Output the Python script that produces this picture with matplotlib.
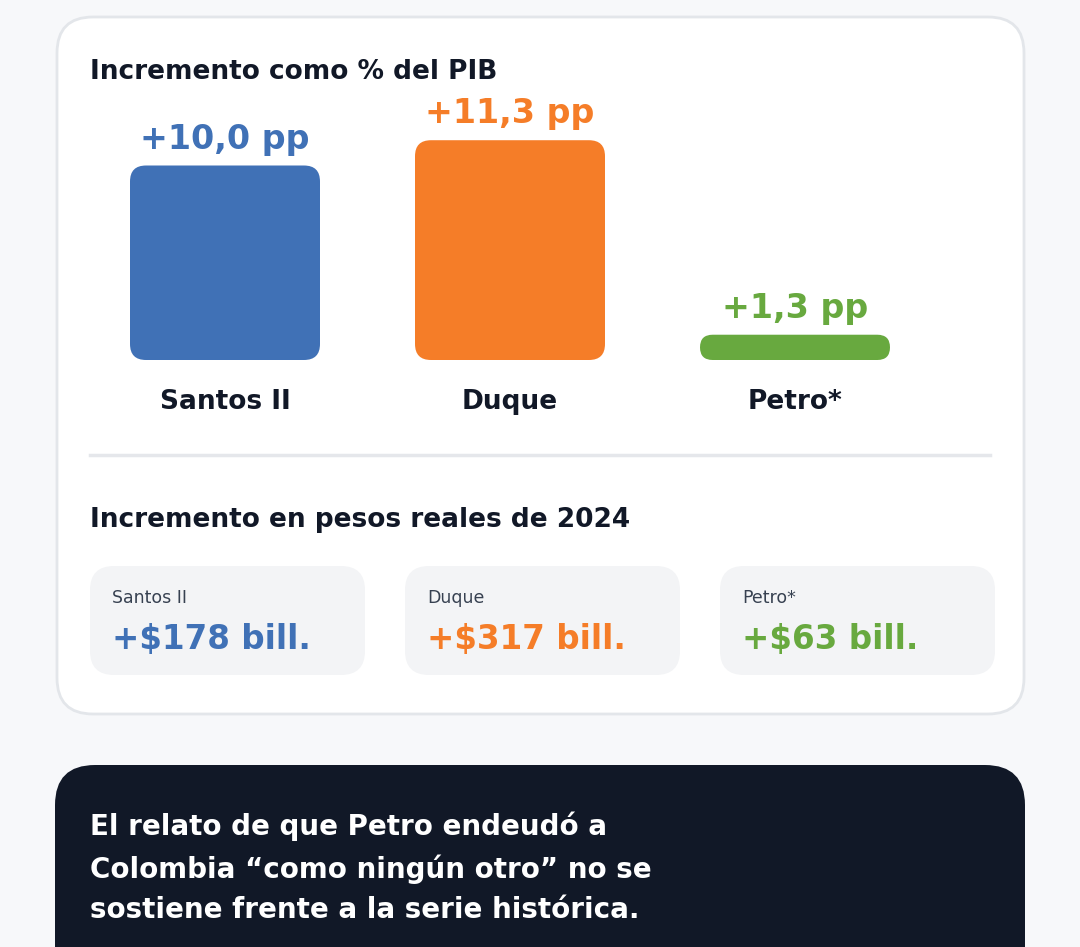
import matplotlib
matplotlib.use("Agg")
import matplotlib.pyplot as plt
from matplotlib.patches import FancyBboxPatch

categories = ["Santos II", "Duque", "Petro*"]
pct_pib = [10.0, 11.3, 1.3]
pct_labels = ["+10,0 pp", "+11,3 pp", "+1,3 pp"]
pesos_labels = ["+$178 bill.", "+$317 bill.", "+$63 bill."]
colors = ["#4071B6", "#F57D28", "#68A93F"]
dark = "#111827"

W, H = 1080, 947
fig = plt.figure(figsize=(10.8, 9.47), dpi=100)
fig.patch.set_facecolor("#F7F8FA")
bg = fig.add_axes([0, 0, 1, 1])
bg.set_xlim(0, W); bg.set_ylim(H, 0); bg.axis("off")

def rbox(ax, x0, y0, x1, y1, r, fc, ec="none", lw=0, z=1):
    ax.add_patch(FancyBboxPatch((x0, y0), x1 - x0, y1 - y0,
                 boxstyle=f"round,pad=0,rounding_size={r}", fc=fc, ec=ec, lw=lw, zorder=z))

rbox(bg, 57, 17, 1024, 714, 36, "white", "#E3E6EA", 2)
bg.text(90, 72, "Incremento como % del PIB", fontsize=19, fontweight="bold", color=dark, va="center")
bg.plot([90, 990], [455, 455], color="#E5E7EB", lw=2.5)
bg.text(90, 520, "Incremento en pesos reales de 2024", fontsize=19, fontweight="bold", color=dark, va="center")

centers = [225, 510, 795]
for i, (cx, cat) in enumerate(zip(centers, categories)):
    bg.text(cx, 402, cat, fontsize=19, fontweight="bold", color=dark, ha="center", va="center")
    x0 = 90 + i * 315
    rbox(bg, x0, 566, x0 + 275, 675, 24, "#F3F4F6")
    bg.text(x0 + 22, 598, cat, fontsize=12.5, color="#374151", va="center")
    bg.text(x0 + 22, 639, pesos_labels[i], fontsize=23.5, fontweight="bold", color=colors[i], va="center")

rbox(bg, 55, 765, 1025, 1000, 40, dark)
bg.text(90, 868, "El relato de que Petro endeudó a\nColombia “como ningún otro” no se\nsostiene frente a la serie histórica.",
        fontsize=20, fontweight="bold", color="white", va="center", linespacing=1.55)

# bar axes: x in pixels, y in pp; 1 pp = 19.45 px
ppx = 19.45
top_px, bot_px = 90, 360
ax = fig.add_axes([0, 1 - bot_px / H, 1, (bot_px - top_px) / H])
ax.set_xlim(0, W); ax.set_ylim(0, (bot_px - top_px) / ppx); ax.axis("off")
bw = 190
for cx, v, lab, c in zip(centers, pct_pib, pct_labels, colors):
    h_px = v * ppx
    r = min(16, h_px / 2)
    ax.add_patch(FancyBboxPatch((cx - bw / 2, 0), bw, v,
                 boxstyle=f"round,pad=0,rounding_size={r}", mutation_aspect=1 / ppx,
                 fc=c, ec="none"))
    ax.text(cx, v + 1.35, lab, fontsize=24, fontweight="bold", color=c, ha="center", va="center")

fig.savefig("out.png", dpi=100, facecolor=fig.get_facecolor())
